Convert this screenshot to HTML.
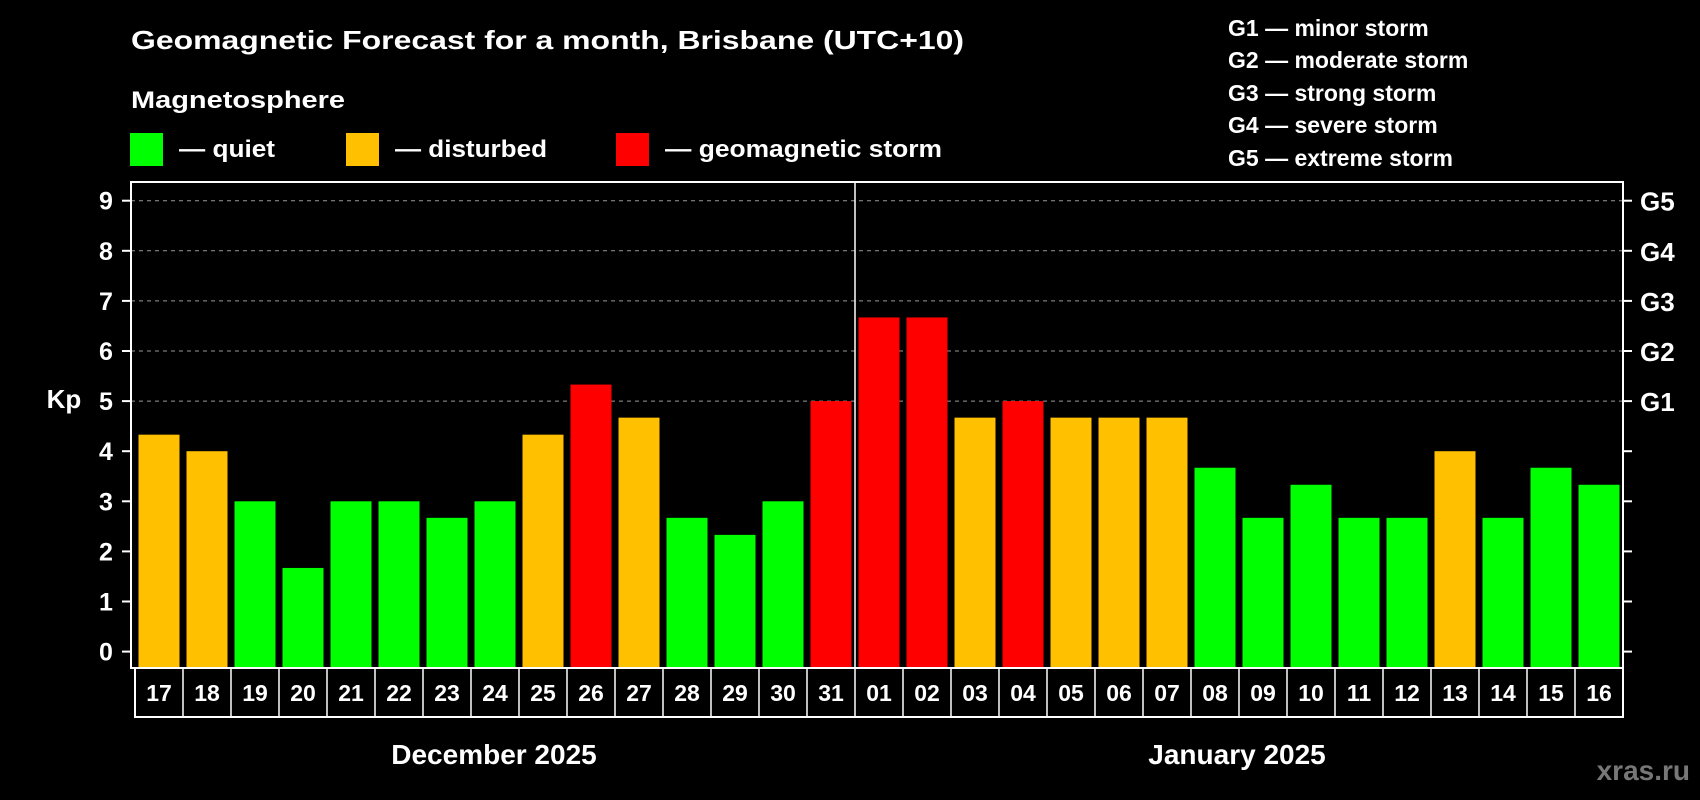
<!DOCTYPE html>
<html><head><meta charset="utf-8"><style>
html,body{margin:0;padding:0;background:#000;}
svg{display:block;font-family:"Liberation Sans",sans-serif;font-weight:bold;}
</style></head><body>
<svg id="chart" width="1700" height="800" viewBox="0 0 1700 800">
<rect x="0" y="0" width="1700" height="800" fill="#000"/>
<text x="131" y="49" font-size="26" fill="#fff" textLength="833" lengthAdjust="spacingAndGlyphs">Geomagnetic Forecast for a month, Brisbane (UTC+10)</text>
<text x="131" y="108" font-size="24" fill="#fff" textLength="214" lengthAdjust="spacingAndGlyphs">Magnetosphere</text>
<g>
<rect x="130" y="133" width="33" height="33" fill="#00ff00"/>
<text x="179" y="157" font-size="24" fill="#fff" textLength="96" lengthAdjust="spacingAndGlyphs">— quiet</text>
</g>
<g>
<rect x="346" y="133" width="33" height="33" fill="#ffc000"/>
<text x="395" y="157" font-size="24" fill="#fff" textLength="152" lengthAdjust="spacingAndGlyphs">— disturbed</text>
</g>
<g>
<rect x="616" y="133" width="33" height="33" fill="#ff0000"/>
<text x="665" y="157" font-size="24" fill="#fff" textLength="277" lengthAdjust="spacingAndGlyphs">— geomagnetic storm</text>
</g>
<g font-size="23" fill="#fff">
<text x="1228" y="36">G1 — minor storm</text>
<text x="1228" y="68">G2 — moderate storm</text>
<text x="1228" y="101">G3 — strong storm</text>
<text x="1228" y="133">G4 — severe storm</text>
<text x="1228" y="166">G5 — extreme storm</text>
</g>
<text x="64" y="408" font-size="26" fill="#fff" text-anchor="middle">Kp</text>
<g id="grid"></g>
<g id="bars"></g>
<g id="axes"></g>
<text x="494" y="764" font-size="28" fill="#fff" text-anchor="middle">December 2025</text>
<text x="1237" y="764" font-size="28" fill="#fff" text-anchor="middle">January 2025</text>
<text x="1690" y="780" font-size="28" fill="#777" text-anchor="end">xras.ru</text>
</svg>
<script>
const days = ["17","18","19","20","21","22","23","24","25","26","27","28","29","30","31","01","02","03","04","05","06","07","08","09","10","11","12","13","14","15","16"];
const kpValues = [4.33,4,3,1.67,3,3,2.67,3,4.33,5.33,4.67,2.67,2.33,3,5,6.67,6.67,4.67,5,4.67,4.67,4.67,3.67,2.67,3.33,2.67,2.67,4,2.67,3.67,3.33];
const yTicks = [0,1,2,3,4,5,6,7,8,9];
const gLabels = ["G1","G2","G3","G4","G5"];
const gLevels = [5,6,7,8,9];
const monthSplitIndex = 15;

const NS="http://www.w3.org/2000/svg";
const L=131,R=1623,T=182,B=668;
const cellL=135,cellW=(R-cellL)/days.length;
const y=v=>651.6-v*50.1;
const xc=i=>cellL+cellW*(i+0.5);
function mk(tag,attrs,parent){const e=document.createElementNS(NS,tag);for(const k in attrs)e.setAttribute(k,attrs[k]);parent.appendChild(e);return e;}
const grid=document.getElementById('grid'),bars=document.getElementById('bars'),axes=document.getElementById('axes');
gLevels.forEach((v,i)=>{
  const g=mk('line',{x1:L,x2:R,y1:y(v),y2:y(v),stroke:'#999','stroke-width':1,'stroke-dasharray':'4,4'},grid);
  
  
});
kpValues.forEach((v,i)=>{
  const col=v>=5?'#ff0000':(v>=4?'#ffc000':'#00ff00');
  const r=mk('rect',{x:xc(i)-20.5,y:y(v),width:41,height:B-y(v),fill:col},bars);
  
  
});
const fr=mk('rect',{x:L,y:T,width:R-L,height:B-T,fill:'none',stroke:'#fff','stroke-width':2},axes);


const dv=mk('line',{x1:cellL+cellW*monthSplitIndex,x2:cellL+cellW*monthSplitIndex,y1:T,y2:B,stroke:'#fff','stroke-width':1.5},axes);


yTicks.forEach(v=>{
  const t1=mk('line',{x1:L-9,x2:L,y1:y(v),y2:y(v),stroke:'#fff','stroke-width':2},axes);
  
  
  const t2=mk('line',{x1:R,x2:R+9,y1:y(v),y2:y(v),stroke:'#fff','stroke-width':2},axes);
  
  
  const tl=mk('text',{x:106,y:y(v)+9,'font-size':25,fill:'#fff','text-anchor':'middle'},axes);
  tl.textContent=v;
  
  
});
gLabels.forEach((g,i)=>{
  const t=mk('text',{x:1640,y:y(gLevels[i])+10,'font-size':26,fill:'#fff'},axes);
  t.textContent=g;
  
  
});
const lb=mk('rect',{x:cellL,y:B,width:R-cellL,height:49,fill:'none',stroke:'#fff','stroke-width':2},axes);


days.forEach((d,i)=>{
  if(i>0){
    const s=mk('line',{x1:cellL+cellW*i,x2:cellL+cellW*i,y1:B,y2:B+49,stroke:'#fff','stroke-width':1.5},axes);
    
    
  }
  const t=mk('text',{x:xc(i),y:701,'font-size':23,fill:'#fff','text-anchor':'middle'},axes);
  t.textContent=d;
  
  
});
</script>
</body></html>
